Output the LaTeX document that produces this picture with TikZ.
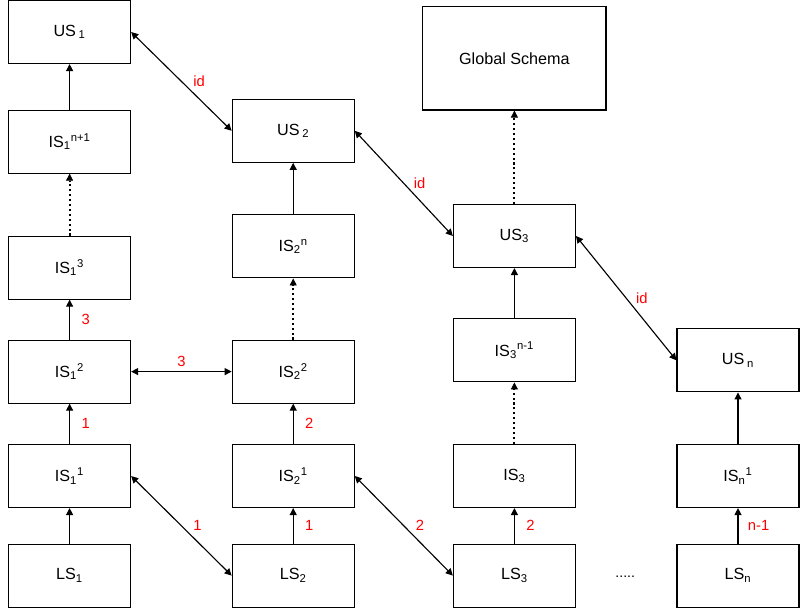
\documentclass[tikz,border=0pt]{standalone}
\usepackage{fontspec}
\setmainfont{Liberation Sans}
\usetikzlibrary{arrows.meta}

\tikzset{
    schema/.style={draw, line width=0.8pt, minimum width=3.05cm, minimum height=1.575cm,
        inner sep=0pt, font=\fontsize{11.5}{13}\selectfont},
    uparrow/.style={-{Triangle[length=5pt,width=5pt]}, line width=0.8pt},
    dottedup/.style={-{Triangle[length=5pt,width=5pt,line width=0.5pt]}, line width=1.5pt,
        dash pattern=on 1.5pt off 2pt},
    twoway/.style={{Triangle[length=5pt,width=5pt]}-{Triangle[length=5pt,width=5pt]}, line width=0.8pt},
    lbl/.style={text=red, font=\fontsize{10.5}{12}\selectfont, inner sep=1pt}
}

\begin{document}
\begin{tikzpicture}
        \useasboundingbox (0, 0) rectangle (20.1, 15.25);

        % first column
        \node[schema] (us1) at (1.74, 14.45) {US\,\textsubscript{1}};
        \node[schema] (is1n) at (1.74, 11.71) {IS\textsubscript{1}\textsuperscript{n+1}};
        \node[schema] (is13) at (1.74, 8.56) {IS\textsubscript{1}\textsuperscript{3}};
        \node[schema] (is12) at (1.74, 5.96) {IS\textsubscript{1}\textsuperscript{2}};
        \node[schema] (is11) at (1.74, 3.35) {IS\textsubscript{1}\textsuperscript{1}};
        \node[schema] (ls1) at (1.74, 0.86) {LS\textsubscript{1}};

        % second column
        \node[schema] (us2) at (7.33, 11.98) {US\,\textsubscript{2}};
        \node[schema] (is2n) at (7.33, 9.09) {IS\textsubscript{2}\textsuperscript{n}};
        \node[schema] (is22) at (7.33, 5.96) {IS\textsubscript{2}\textsuperscript{2}};
        \node[schema] (is21) at (7.33, 3.35) {IS\textsubscript{2}\textsuperscript{1}};
        \node[schema] (ls2) at (7.33, 0.86) {LS\textsubscript{2}};

        % third column
        \node[schema, minimum width=4.58cm, minimum height=2.58cm] (global) at (12.86, 13.79) {Global Schema};
        \node[schema] (us3) at (12.86, 9.35) {US\textsubscript{3}};
        \node[schema] (is3n) at (12.86, 6.49) {IS\textsubscript{3}\textsuperscript{n-1}};
        \node[schema] (is3) at (12.86, 3.35) {IS\textsubscript{3}};
        \node[schema] (ls3) at (12.86, 0.86) {LS\textsubscript{3}};

        % last column
        \node[schema] (usn) at (18.45, 6.24) {US\,\textsubscript{n}};
        \node[schema] (isn1) at (18.45, 3.35) {IS\textsubscript{n}\textsuperscript{1}};
        \node[schema] (lsn) at (18.45, 0.86) {LS\textsubscript{n}};
        \node[font=\fontsize{10}{12}\selectfont] (more) at (15.63, 0.82) {.....};

        % bottom to top arrows
        \draw[uparrow] (ls1) -- (is11);
        \draw[uparrow] (is11) -- node[lbl, right=2.5mm] (l11) {1} (is12);
        \draw[uparrow] (is12) -- node[lbl, right=2.5mm] (l12) {3} (is13);
        \draw[dottedup] (is13) -- (is1n);
        \draw[uparrow] (is1n) -- (us1);

        \draw[uparrow] (ls2) -- node[lbl, right=2.5mm] (l21) {1} (is21);
        \draw[uparrow] (is21) -- node[lbl, right=2.5mm] (l22) {2} (is22);
        \draw[dottedup] (is22) -- (is2n);
        \draw[uparrow] (is2n) -- (us2);

        \draw[uparrow] (ls3) -- node[lbl, right=2.5mm] (l31) {2} (is3);
        \draw[dottedup] (is3) -- (is3n);
        \draw[uparrow] (is3n) -- (us3);
        \draw[dottedup] (us3) -- (global);

        \draw[uparrow] (lsn) -- node[lbl, right=2mm] (ln1) {n-1} (isn1);
        \draw[uparrow] (isn1) -- (usn);

        % arrows between columns
        \draw[twoway] (is12) -- node[lbl, above=2pt] (h12) {3} (is22);
        \draw[twoway] (is11.east) -- node[lbl, right=2.5mm] (d12) {1} (ls2.west);
        \draw[twoway] (is21.east) -- node[lbl, right=2.5mm] (d23) {2} (ls3.west);

        % identity arrows
        \draw[twoway] (us1.east) -- node[lbl, right=2.5mm] (id12) {id} (us2.west);
        \draw[twoway] (us2.east) -- node[lbl, right=2mm] (id23) {id} (us3.west);
        \draw[twoway] (us3.east) -- node[lbl, right=2mm] (id3n) {id} (usn.west);

\end{tikzpicture}
\end{document}
